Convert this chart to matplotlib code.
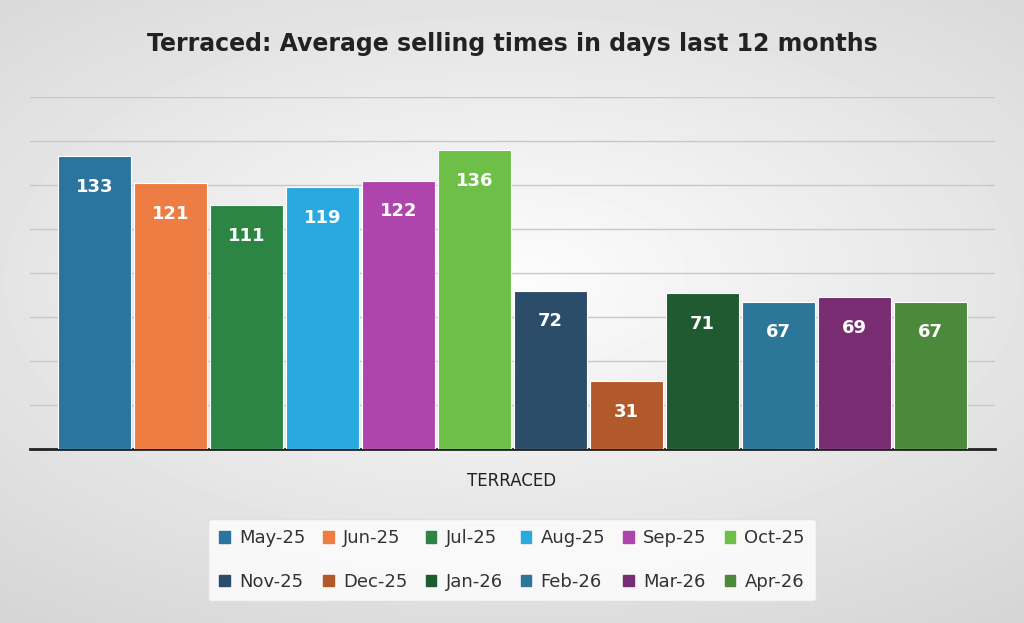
import matplotlib
matplotlib.use("Agg")
import matplotlib.pyplot as plt
import numpy as np

months = ["May-25","Jun-25","Jul-25","Aug-25","Sep-25","Oct-25","Nov-25","Dec-25","Jan-26","Feb-26","Mar-26","Apr-26"]
values = [133,121,111,119,122,136,72,31,71,67,69,67]
colors = ["#2b74a0","#ee7d44","#2d8544","#2aa9e0","#ae45ad","#6dbf48","#2b4d69","#b2592b","#1f5a31","#2c7699","#782c72","#4b8a3b"]

fig = plt.figure(figsize=(10.24,6.23), dpi=100)
bg = fig.add_axes([0,0,1,1], zorder=-10)
yy, xx = np.mgrid[0:1:200j, 0:1:300j]
g = 0.99 - 0.16*np.sqrt(((xx-0.5)*1.2)**2 + ((yy-0.45)*1.4)**2)
bg.imshow(g, cmap="gray", vmin=0, vmax=1, aspect="auto", extent=[0,1,0,1])
bg.axis("off")

ax = fig.add_axes([30/1024, 1-449/623, 965/1024, (449-97)/623])
ax.set_facecolor("none")
n = len(values)
x = np.arange(n)
ax.bar(x, values, width=0.96, color=colors, edgecolor="white", linewidth=0.8, zorder=3)
for xi, v in zip(x, values):
    ax.text(xi, v-14, str(v), ha="center", va="center", color="white", fontsize=13, fontweight="bold", zorder=4)
ax.set_ylim(0,160)
ax.set_xlim(-0.85, n-0.5+0.35)
ax.set_yticks(range(0,161,20))
ax.yaxis.grid(True, color="#c8c8c8", linewidth=1, zorder=0)
ax.tick_params(left=False, labelleft=False, bottom=False, labelbottom=False)
for s in ["left","right","top"]:
    ax.spines[s].set_visible(False)
ax.spines["bottom"].set_color("#222222")
ax.spines["bottom"].set_linewidth(2)

fig.text(0.5, 1-44/623, "Terraced: Average selling times in days last 12 months", ha="center", va="center", fontsize=17, fontweight="bold", color="#222222")
fig.text(512/1024, 1-481/623, "TERRACED", ha="center", va="center", fontsize=12, color="#222222")

handles = [plt.Rectangle((0,0),1,1,color=c) for c in colors]
order = [i for pair in zip(range(6), range(6,12)) for i in pair]
leg = fig.legend([handles[i] for i in order], [months[i] for i in order], ncol=6, loc="center",
                 bbox_to_anchor=(512/1024, 1-560/623),
                 frameon=True, fontsize=13, handlelength=0.6, handleheight=0.6, columnspacing=1.0,
                 handletextpad=0.5, labelspacing=1.4, borderpad=0.6)
leg.get_frame().set_facecolor("white")
leg.get_frame().set_edgecolor("#dddddd")
leg.get_frame().set_alpha(0.8)
for t in leg.get_texts():
    t.set_color("#333333")

fig.savefig("out.png", dpi=100)
